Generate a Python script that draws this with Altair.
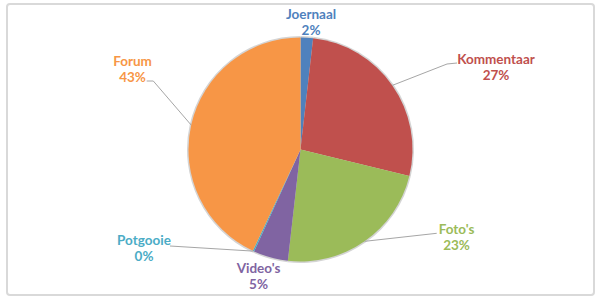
import math
import altair as alt
import pandas as pd

# ---- data ----
categories = ["Joernaal", "Kommentaar", "Foto's", "Video's", "Potgooie", "Forum"]
values = [1.8, 27, 23, 5, 0.2, 43]
colors = ["#4F81BD", "#C0504D", "#9BBB59", "#8064A2", "#4BACC6", "#F79646"]

# ---- layout (annotation placement, relative to pie centre, px) ----
W, H = 587, 291
R = 112
LINE_H = 16
label_offsets = [(10.5, -127), (195.5, -81.5), (156, 88.5), (-42, 127), (-156.5, 99.5), (-168, -79.5)]
leader_tails = {
    "Kommentaar": [(146.5, -85.5), (156.5, -86.5)],
    "Foto's": [(136.2, 83.8)],
    "Potgooie": [(-130.5, 96.5)],
    "Forum": [(-147.2, -68.5), (-153.8, -68.5)],
}

cx, cy = W / 2, H / 2
total = sum(values)
rows, labels, lines = [], [], []
cum = 0.0
for i, (c, v) in enumerate(zip(categories, values)):
    mid = (cum + v / 2) / total * 2 * math.pi
    cum += v
    pct = round(v / total * 100)
    rows.append({"cat": c, "value": v, "idx": i})
    ox, oy = label_offsets[i]
    # first line is anchored at y; shift so the two-line block is centred
    labels.append({"cat": c, "txt": f"{c}\n{pct}%", "x": cx + ox, "y": cy + oy - LINE_H / 2})
    if c in leader_tails:
        pts = [(R * math.sin(mid), -R * math.cos(mid))] + leader_tails[c]
        for k, (px, py) in enumerate(pts):
            lines.append({"cat": c, "k": k, "x": cx + px, "y": cy + py})

df = pd.DataFrame(rows)
ldf = pd.DataFrame(labels)
lndf = pd.DataFrame(lines)

color_scale = alt.Scale(domain=categories, range=colors)

shadow = alt.Chart(df).mark_arc(outerRadius=R + 1.5, color="#D4D4D4").encode(
    theta=alt.Theta("value:Q", stack=True),
    order=alt.Order("idx:Q"),
)

pie = alt.Chart(df).mark_arc(outerRadius=R).encode(
    theta=alt.Theta("value:Q", stack=True),
    color=alt.Color("cat:N", scale=color_scale, legend=None),
    order=alt.Order("idx:Q"),
)

leaders = alt.Chart(lndf).mark_line(color="#A6A6A6", strokeWidth=1).encode(
    x=alt.X("x:Q", scale=None),
    y=alt.Y("y:Q", scale=None),
    detail="cat:N",
    order="k:Q",
)

text = alt.Chart(ldf).mark_text(
    font="Lato", fontSize=13.5, fontWeight="bold", lineBreak="\n", lineHeight=LINE_H,
    align="center", baseline="middle",
).encode(
    x=alt.X("x:Q", scale=None),
    y=alt.Y("y:Q", scale=None),
    text="txt:N",
    color=alt.Color("cat:N", scale=color_scale, legend=None),
)

chart = (
    alt.layer(shadow, pie, leaders, text)
    .properties(
        width=W, height=H,
        padding={"left": 7, "top": 4, "right": 6, "bottom": 5},
        autosize=alt.AutoSizeParams(type="none"),
        background="white",
    )
    .configure_view(stroke="#D9D9D9", strokeWidth=2, cornerRadius=3)
)

chart.save("out.html", embed_options={"renderer": "svg", "actions": False})
